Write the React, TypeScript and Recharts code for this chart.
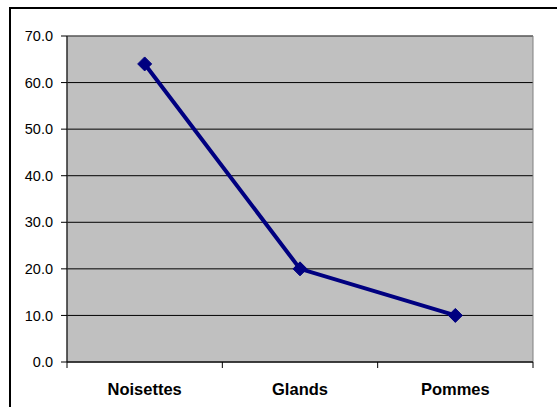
import React from "react";
import { LineChart, Line, XAxis, YAxis, CartesianGrid, ReferenceArea } from "recharts";

const categories = ["Noisettes", "Glands", "Pommes"];
const values = [64, 20, 10];
const yTicks = [0, 10, 20, 30, 40, 50, 60, 70];

const data = categories.map((name, i) => ({ name, value: values[i] }));

const X_TICK_MARGIN = 21;
const X_TICK_LEN = 6;

const Diamond = (props: any) => {
  const { cx, cy } = props;
  if (cx == null || cy == null) return null;
  const r = 7;
  return (
    <polygon
      points={`${cx},${cy - r} ${cx + r},${cy} ${cx},${cy + r} ${cx - r},${cy}`}
      fill="#000080"
      stroke="#000080"
      strokeWidth={1}
    />
  );
};

const CategoryTick = (props: any) => {
  const { x, y, payload, index, visibleTicksCount, width } = props;
  const half =
    payload && typeof payload.offset === "number" && payload.offset > 0
      ? payload.offset
      : width / (visibleTicksCount || 1) / 2;
  const axisY = y - X_TICK_MARGIN;
  const isLast = index === (visibleTicksCount || 1) - 1;
  return (
    <g>
      <line x1={x - half} x2={x - half} y1={axisY} y2={axisY + X_TICK_LEN} stroke="#000" />
      {isLast && (
        <line x1={x + half} x2={x + half} y1={axisY} y2={axisY + X_TICK_LEN} stroke="#000" />
      )}
      <text
        x={x}
        y={y}
        dy="0.71em"
        textAnchor="middle"
        fontFamily="'Liberation Sans', Arial, sans-serif"
        fontSize={16.5}
        fontWeight="bold"
        fill="#000"
      >
        {payload.value}
      </text>
    </g>
  );
};

export default function App() {
  return (
    <div style={{ position: "absolute", left: 0, top: 0, width: 557, height: 407, background: "#fff", overflow: "hidden" }}>
      <div
        style={{
          position: "absolute",
          left: 9,
          top: 7,
          width: 600,
          height: 450,
          borderLeft: "2px solid #000",
          borderTop: "2px solid #000",
        }}
      />
      <div style={{ position: "absolute", left: 0, top: 0 }}>
        <LineChart
          width={557}
          height={407}
          data={data}
          margin={{ top: 36, right: 24, bottom: 5, left: 10 }}
        >
          <CartesianGrid fill="#C0C0C0" fillOpacity={1} vertical={false} stroke="#000" strokeOpacity={1} />
          <ReferenceArea y1={0} y2={70} fill="none" stroke="#808080" strokeWidth={1} ifOverflow="visible" />
          <XAxis
            dataKey="name"
            type="category"
            scale="band"
            height={40}
            tickSize={0}
            tickMargin={X_TICK_MARGIN}
            tickLine={false}
            axisLine={{ stroke: "#000" }}
            interval={0}
            tick={<CategoryTick />}
          />
          <YAxis
            domain={[0, 70]}
            ticks={yTicks}
            tickFormatter={(v: number) => v.toFixed(1)}
            width={57}
            tickSize={6}
            tickMargin={8}
            axisLine={{ stroke: "#000" }}
            tickLine={{ stroke: "#000" }}
            tick={{ fontFamily: "'Liberation Sans', Arial, sans-serif", fontSize: 14.5, fill: "#000" }}
            interval={0}
          />
          <Line
            dataKey="value"
            stroke="#000080"
            strokeWidth={4}
            dot={<Diamond />}
            activeDot={false}
            isAnimationActive={false}
          />
        </LineChart>
      </div>
    </div>
  );
}
